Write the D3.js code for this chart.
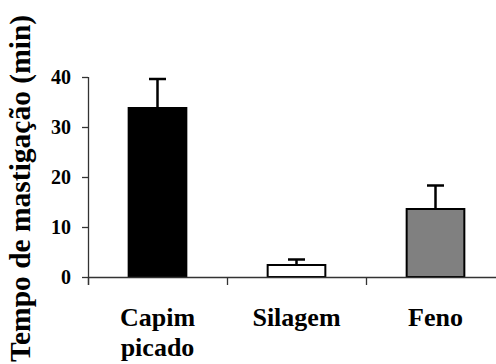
<!DOCTYPE html>
<html><head><meta charset="utf-8">
<script src="https://cdn.jsdelivr.net/npm/d3@7"></script>
</head><body>
<svg id="chart" width="496" height="364"></svg>
<script>
const categories = [["Capim","picado"],["Silagem"],["Feno"]];
const means = [33.8, 2.4, 13.6];
const errors = [5.8, 1.1, 4.7];
const fills = ["#000000", "#ffffff", "#808080"];
const yTicks = [0, 10, 20, 30, 40];
const yLabel = "Tempo de mastigação (min)";

document.body.style.margin = "0";
document.body.style.background = "#fff";
d3.select("#chart").style("display", "block");

const FONT = "Liberation Serif";
const svg = d3.select("#chart");
const x = d3.scaleBand().domain(d3.range(categories.length)).range([88, 505]).paddingInner(0.585).paddingOuter(0.2925);
const y = d3.scaleLinear().domain([0, 40]).range([277, 77]);

// bars
svg.selectAll("rect.bar").data(means).enter().append("rect")
  .attr("x", (d,i) => x(i)).attr("width", x.bandwidth())
  .attr("y", d => y(d)).attr("height", d => y(0) - y(d))
  .attr("fill", (d,i) => fills[i]).attr("stroke", "#000").attr("stroke-width", 2);

// error bars
const eb = svg.selectAll("g.err").data(means).enter().append("g");
eb.append("line")
  .attr("x1", (d,i) => x(i) + x.bandwidth()/2).attr("x2", (d,i) => x(i) + x.bandwidth()/2)
  .attr("y1", d => y(d)).attr("y2", (d,i) => y(d + errors[i]))
  .attr("stroke", "#000").attr("stroke-width", 2.5);
eb.append("line")
  .attr("x1", (d,i) => x(i) + x.bandwidth()/2 - 8.5).attr("x2", (d,i) => x(i) + x.bandwidth()/2 + 8.5)
  .attr("y1", (d,i) => y(d + errors[i])).attr("y2", (d,i) => y(d + errors[i]))
  .attr("stroke", "#000").attr("stroke-width", 2.5);

// y axis
const yAxis = svg.append("g").attr("transform", "translate(88,0)")
  .call(d3.axisLeft(y).tickValues(yTicks).tickSize(6).tickFormat("").tickSizeOuter(0));
yAxis.select(".domain").attr("d", "M0.5,77V285").attr("stroke", "#333").attr("stroke-width", 1.3);
yAxis.selectAll(".tick line").attr("stroke", "#333").attr("stroke-width", 1.3);
svg.selectAll("text.yt").data(yTicks).enter().append("text")
  .attr("x", 71).attr("y", d => y(d) + 7).attr("text-anchor", "end")
  .style("font-family", `"${FONT}"`).style("font-weight", "bold").style("font-size", "20px")
  .text(d => d);

// x axis
const step = x.step();
svg.append("line").attr("x1", 88).attr("x2", 505).attr("y1", 277.5).attr("y2", 277.5)
  .attr("stroke", "#333").attr("stroke-width", 1.3);
svg.selectAll("line.xt").data(d3.range(categories.length + 1)).enter().append("line")
  .attr("x1", d => 88.5 + d * step).attr("x2", d => 88.5 + d * step)
  .attr("y1", 277).attr("y2", 285).attr("stroke", "#333").attr("stroke-width", 1.3);

// x labels
categories.forEach((lines, i) => {
  lines.forEach((t, j) => {
    svg.append("text").attr("x", x(i) + x.bandwidth()/2).attr("y", 326 + j * 30)
      .attr("text-anchor", "middle")
      .style("font-family", `"${FONT}"`).style("font-weight", "bold").style("font-size", "26px")
      .text(t);
  });
});

// y label
svg.append("text").attr("transform", "translate(29.5,362) rotate(-90)")
  .attr("text-anchor", "start")
  .style("font-family", `"${FONT}"`).style("font-weight", "bold").style("font-size", "29.5px")
  .text(yLabel);
</script>
</body></html>
